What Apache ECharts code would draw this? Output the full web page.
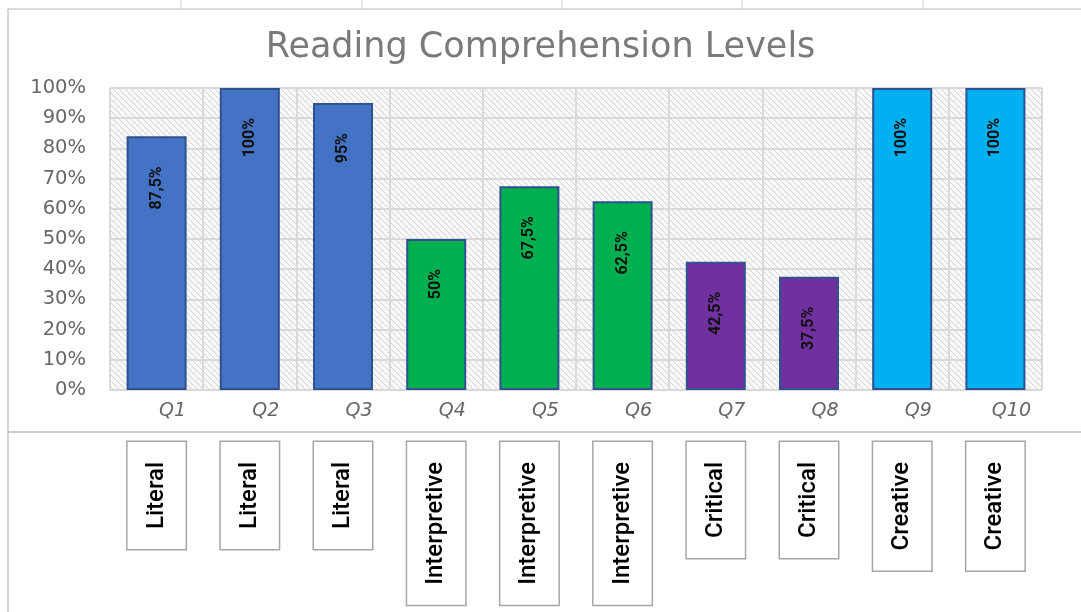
<!DOCTYPE html>
<html>
<head>
  <meta charset="utf-8">
  <title>Reading Comprehension Levels</title>
  <script src="https://cdn.jsdelivr.net/npm/echarts@6.0.0/dist/echarts.min.js"></script>
  <style>
    html, body { margin: 0; padding: 0; background: #fff; }
  </style>
</head>
<body>
  <div id="main" style="width:1081px; height:612px;"></div>
  <script type="text/javascript">
    // data
    const questions = ['Q1', 'Q2', 'Q3', 'Q4', 'Q5', 'Q6', 'Q7', 'Q8', 'Q9', 'Q10'];
    const levels = ['Literal', 'Literal', 'Literal', 'Interpretive', 'Interpretive', 'Interpretive',
      'Critical', 'Critical', 'Creative', 'Creative'];
    const heights = [84, 100, 95, 50, 67.5, 62.5, 42.5, 37.5, 100, 100];
    const valueLabels = ['87,5%', '100%', '95%', '50%', '67,5%', '62,5%', '42,5%', '37,5%', '100%', '100%'];
    const yTicks = [0, 10, 20, 30, 40, 50, 60, 70, 80, 90, 100];

    const levelColors = {
      Literal: '#4472C4',
      Interpretive: '#00B050',
      Critical: '#7030A0',
      Creative: '#00B0F0'
    };

    // diagonal hatch for the plot area
    const pat = document.createElement('canvas');
    pat.width = 6;
    pat.height = 6;
    const c = pat.getContext('2d');
    c.fillStyle = '#f8f8f8';
    c.fillRect(0, 0, 6, 6);
    c.strokeStyle = '#d2d2d2';
    c.lineWidth = 1;
    c.beginPath();
    c.moveTo(-1, -1); c.lineTo(7, 7);
    c.moveTo(-1, 5); c.lineTo(1, 7);
    c.moveTo(5, -1); c.lineTo(7, 1);
    c.stroke();

    const myChart = echarts.init(document.getElementById('main'));

    const option = {
      animation: false,
      title: {
        text: 'Reading Comprehension Levels',
        left: 'center',
        top: 25,
        textStyle: { fontFamily: 'DejaVu Sans', fontSize: 35, fontWeight: 'normal', color: '#7a7a7a' }
      },
      grid: {
        left: 110, right: 39, top: 88, bottom: 222,
        show: true,
        borderWidth: 0,
        backgroundColor: { image: pat, repeat: 'repeat' }
      },
      xAxis: [{
        type: 'category',
        data: questions,
        axisLine: { show: false },
        axisTick: { show: false },
        splitLine: { show: true, lineStyle: { color: '#d9d9d9', width: 2 } },
        axisLabel: {
          margin: 12,
          padding: [0, 0, 0, 32],
          fontFamily: 'DejaVu Sans',
          fontStyle: 'italic',
          fontSize: 19,
          color: '#666'
        }
      }, {
        type: 'category',
        position: 'bottom',
        data: levels,
        axisLine: { show: false },
        axisTick: { show: false },
        splitLine: { show: false },
        axisLabel: {
          interval: 0,
          rotate: 90,
          margin: 52,
          fontFamily: 'Roboto',
          fontWeight: 500,
          fontSize: 24,
          color: '#000',
          borderColor: '#a6a6a6',
          borderWidth: 1.5,
          padding: [17, 20, 17, 20],
          backgroundColor: '#fff'
        }
      }],
      yAxis: {
        type: 'value',
        min: 0,
        max: 100,
        interval: 10,
        axisLine: { show: false },
        axisTick: { show: false },
        splitLine: { lineStyle: { color: '#d9d9d9', width: 2 } },
        axisLabel: {
          margin: 24,
          fontFamily: 'DejaVu Sans',
          fontSize: 19.5,
          color: '#666',
          formatter: v => yTicks.indexOf(v) >= 0 ? v + '%' : ''
        }
      },
      series: [{
        type: 'bar',
        barWidth: 60,
        data: heights.map((h, i) => ({
          value: h,
          itemStyle: { color: levelColors[levels[i]] }
        })),
        itemStyle: { borderColor: '#2F528F', borderWidth: 2 },
        label: {
          show: true,
          position: 'insideTop',
          distance: 30,
          rotate: 90,
          align: 'right',
          verticalAlign: 'middle',
          fontFamily: 'Roboto',
          fontWeight: 'bold',
          fontSize: 16,
          color: '#111',
          formatter: p => valueLabels[p.dataIndex]
        }
      }],
      graphic: [
        { type: 'line', shape: { x1: 8, y1: 9, x2: 1081, y2: 9 }, style: { stroke: '#d0d0d0', lineWidth: 1.5 } },
        { type: 'line', shape: { x1: 8, y1: 9, x2: 8, y2: 612 }, style: { stroke: '#c8c8c8', lineWidth: 1.5 } },
        { type: 'line', shape: { x1: 8, y1: 432, x2: 1081, y2: 432 }, style: { stroke: '#bdbdbd', lineWidth: 1.5 } },
        { type: 'line', shape: { x1: 181, y1: 0, x2: 181, y2: 9 }, style: { stroke: '#d0d0d0', lineWidth: 1 } },
        { type: 'line', shape: { x1: 362, y1: 0, x2: 362, y2: 9 }, style: { stroke: '#d0d0d0', lineWidth: 1 } },
        { type: 'line', shape: { x1: 562, y1: 0, x2: 562, y2: 9 }, style: { stroke: '#d0d0d0', lineWidth: 1 } },
        { type: 'line', shape: { x1: 742, y1: 0, x2: 742, y2: 9 }, style: { stroke: '#d0d0d0', lineWidth: 1 } },
        { type: 'line', shape: { x1: 923, y1: 0, x2: 923, y2: 9 }, style: { stroke: '#d0d0d0', lineWidth: 1 } }
      ]
    };

    myChart.setOption(option);
  </script>
</body>
</html>
